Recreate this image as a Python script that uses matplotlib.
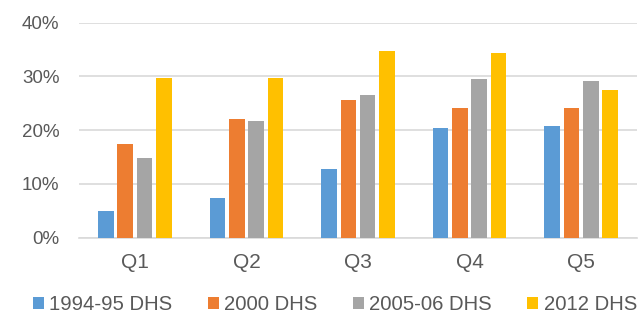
import numpy as np
import matplotlib.pyplot as plt
from matplotlib.ticker import PercentFormatter

plt.rcParams['font.family'] = ['Liberation Sans', 'DejaVu Sans']

##Categories and series values (percent)
quintiles = ['Q1', 'Q2', 'Q3', 'Q4', 'Q5']
series_names = ['1994-95 DHS', '2000 DHS', '2005-06 DHS', '2012 DHS']
dhs_1994 = [4.9, 7.3, 12.7, 20.4, 20.8]
dhs_2000 = [17.4, 22.1, 25.7, 24.2, 24.2]
dhs_2005 = [14.8, 21.7, 26.5, 29.6, 29.2]
dhs_2012 = [29.7, 29.7, 34.7, 34.3, 27.5]
colors = ['#5b9bd5', '#ed7d31', '#a5a5a5', '#ffc000']

fig = plt.figure(figsize=(6.42, 3.16), dpi=100)
ax = fig.add_axes([79/642, 1 - 237.7/316, (637-79)/642, (237.7-22.7)/316])

x = np.arange(len(quintiles))
slot = 0.173
width = 0.14
for k, (vals, name, c) in enumerate(zip([dhs_1994, dhs_2000, dhs_2005, dhs_2012], series_names, colors)):
    ax.bar(x + (k - 1.5) * slot, vals, width, color=c, label=name, zorder=3)

ax.set_xlim(-0.5, 4.5)
ax.set_ylim(0, 40)
ax.set_yticks([0, 10, 20, 30, 40])
ax.yaxis.set_major_formatter(PercentFormatter(decimals=0))
ax.set_xticks(x)
ax.set_xticklabels(quintiles)
ax.grid(axis='y', color='#d9d9d9', linewidth=1.2, zorder=0)
for s in ['top', 'right', 'left']:
    ax.spines[s].set_visible(False)
ax.spines['bottom'].set_color('#d9d9d9')
ax.spines['bottom'].set_linewidth(1.2)
ax.tick_params(axis='both', length=0, labelcolor='#595959')
ax.tick_params(axis='x', pad=11, labelsize=15)
ax.tick_params(axis='y', pad=14, labelsize=13.5)

fig.legend(loc='center', bbox_to_anchor=(335/642, 1 - 305/316), ncol=4, frameon=False,
           fontsize=14.6, labelcolor='#595959', handlelength=0.55, handleheight=0.55,
           handletextpad=0.25, columnspacing=1.75, borderpad=0, borderaxespad=0)

fig.savefig('out.png', dpi=100)
